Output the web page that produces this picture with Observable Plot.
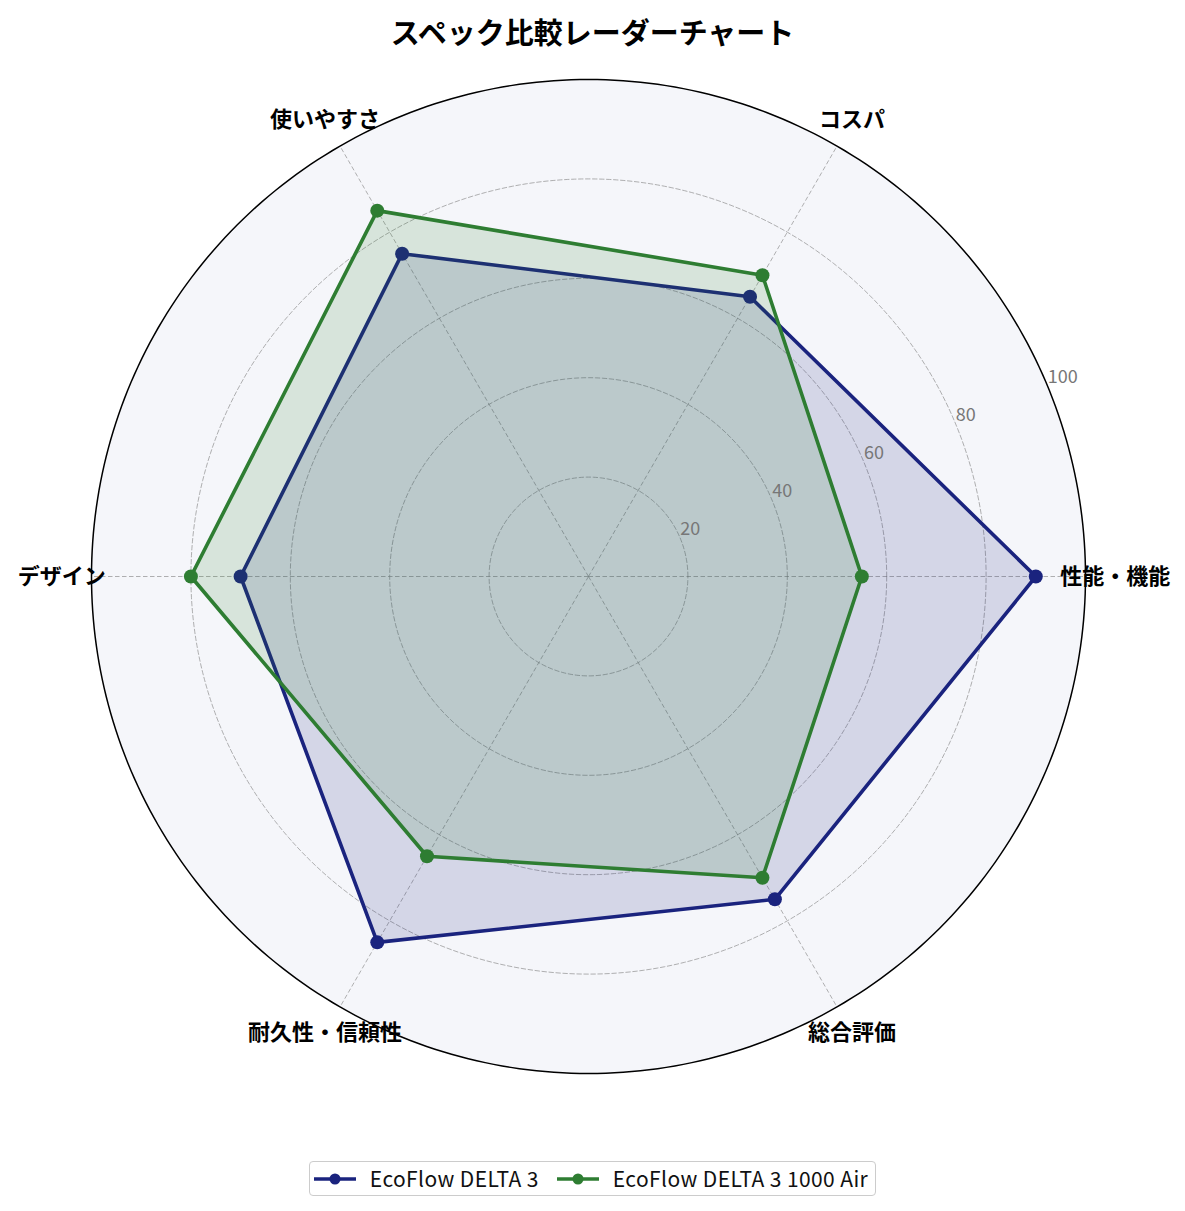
<!DOCTYPE html>
<html>
<head>
<meta charset="utf-8">
<script src="https://cdn.jsdelivr.net/npm/d3@7"></script>
<script src="https://cdn.jsdelivr.net/npm/@observablehq/plot@0.6"></script>
<style>
  body { margin: 0; background: #fff; font-family: "Noto Sans CJK JP", "Noto Sans", sans-serif; }
  #title { width: 1185px; height: 53px; padding-top: 3px; line-height: 56px; text-align: center; font-size: 29px; font-weight: bold; color: #000; }
  #chart svg { display: block; }
  #legendWrap { width: 1185px; display: flex; justify-content: center; margin-top: 15px; }
  #legend { box-sizing: border-box; display: flex; align-items: center; border: 1.5px solid #cccccc; border-radius: 4px; padding: 0 7px 0 4px; height: 35px; font-size: 21px; letter-spacing: 0.4px; color: #111; background: #fff; }
  .item { display: flex; align-items: center; margin-right: 18px; }
  .item:last-child { margin-right: 0; }
  .item svg { margin-right: 14px; }
  .item span { line-height: 33px; }
</style>
</head>
<body>
<div id="title">スペック比較レーダーチャート</div>
<div id="chart"></div>
<div id="legendWrap"><div id="legend"></div></div>
<script>
const categories = ["性能・機能", "コスパ", "使いやすさ", "デザイン", "耐久性・信頼性", "総合評価"];
const delta3 = [90, 65, 75, 70, 85, 75];
const delta3Air = [55, 70, 85, 80, 65, 70];
const seriesNames = ["EcoFlow DELTA 3", "EcoFlow DELTA 3 1000 Air"];
const seriesColors = ["#1a237e", "#2e7d32"];
const ringTicks = [20, 40, 60, 80, 100];

const W = 1185, H = 1090, CX = 588, CY = 520, PX = 4.97, RMAX = 100;
const ang = i => i * 2 * Math.PI / categories.length;
const px = (r, a) => r * Math.cos(a);
const py = (r, a) => r * Math.sin(a);

const seriesValues = [delta3, delta3Air];
const points = seriesValues.flatMap((vals, s) =>
  vals.map((v, i) => ({series: seriesNames[s], cat: categories[i], value: v, a: ang(i)})));

const circle = r => d3.range(0, 361, 1).map(deg => ({r, a: deg * Math.PI / 180}));
const rings = ringTicks.filter(t => t < RMAX).flatMap(t => circle(t));
const outer = circle(RMAX);
const spokes = categories.map((c, i) => ({cat: c, a: ang(i)}));
const rlabAngle = 22.5 * Math.PI / 180;

const marks = [
  Plot.line(outer, {x: d => px(d.r, d.a), y: d => py(d.r, d.a), fill: "#f5f6fa", stroke: "none", curve: "linear-closed"}),
  Plot.line(rings, {x: d => px(d.r, d.a), y: d => py(d.r, d.a), z: "r", stroke: "#8a8a8a", strokeOpacity: 0.75, strokeWidth: 0.9, strokeDasharray: "4.5,2.5"}),
  Plot.link(spokes, {x1: () => 0, y1: () => 0, x2: d => px(RMAX, d.a), y2: d => py(RMAX, d.a), stroke: "#8a8a8a", strokeOpacity: 0.75, strokeWidth: 0.9, strokeDasharray: "4.5,2.5"}),
];
seriesNames.forEach((name, s) => {
  const pts = points.filter(d => d.series === name);
  marks.push(
    Plot.line(pts, {x: d => px(d.value, d.a), y: d => py(d.value, d.a), fill: seriesColors[s], fillOpacity: 0.15, stroke: "none", curve: "linear-closed"}),
    Plot.line(pts, {x: d => px(d.value, d.a), y: d => py(d.value, d.a), stroke: seriesColors[s], strokeWidth: 3.6, curve: "linear-closed"}),
    Plot.dot(pts, {x: d => px(d.value, d.a), y: d => py(d.value, d.a), r: 7, fill: seriesColors[s], stroke: "none"})
  );
});
marks.push(
  Plot.line(outer, {x: d => px(d.r, d.a), y: d => py(d.r, d.a), stroke: "#000", strokeWidth: 1.5, curve: "linear-closed"}),
  Plot.text(ringTicks, {x: t => px(t, rlabAngle), y: t => py(t, rlabAngle), text: t => String(t), textAnchor: "start", lineAnchor: "bottom", dy: -3, fill: "#777", fontSize: 18}),
  Plot.text(spokes, {x: d => px(106, d.a), y: d => py(106, d.a), text: "cat", textAnchor: "middle", lineAnchor: "middle", fill: "#000", fontSize: 22, fontWeight: "bold"})
);

const chart = Plot.plot({
  width: W, height: H, margin: 0,
  x: {domain: [-CX / PX, (W - CX) / PX], axis: null},
  y: {domain: [-(H - CY) / PX, CY / PX], axis: null},
  style: {fontFamily: '"Noto Sans CJK JP", "Noto Sans", sans-serif', background: "transparent", overflow: "visible"},
  marks
});
document.getElementById("chart").appendChild(chart);

const legend = document.getElementById("legend");
seriesNames.forEach((name, s) => {
  const item = document.createElement("div");
  item.className = "item";
  item.innerHTML = `<svg width="42" height="16"><line x1="0" y1="8" x2="42" y2="8" stroke="${seriesColors[s]}" stroke-width="3.6"/><circle cx="21" cy="8" r="5.5" fill="${seriesColors[s]}"/></svg><span>${name}</span>`;
  legend.appendChild(item);
});
</script>
</body>
</html>
